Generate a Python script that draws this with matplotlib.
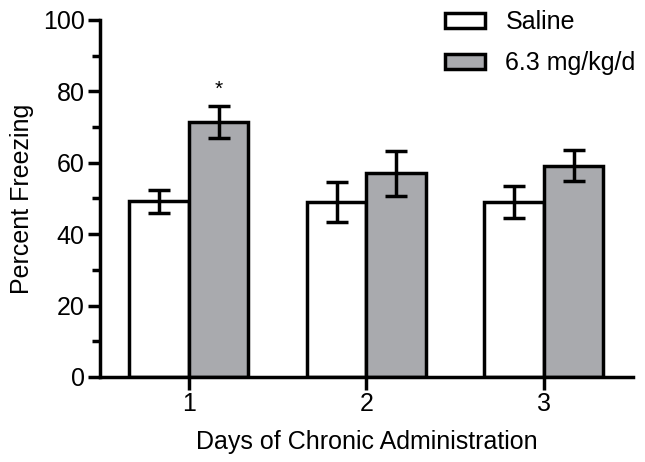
import matplotlib
matplotlib.use('Agg')
import matplotlib.pyplot as plt
import numpy as np

plt.rcParams['font.family'] = ['Liberation Sans', 'DejaVu Sans']

days = ['1', '2', '3']
saline = [49.2, 48.9, 49.0]
saline_err = [3.2, 5.6, 4.4]
drug = [71.4, 57.0, 59.2]
drug_err = [4.6, 6.4, 4.4]
series_names = ['Saline', '6.3 mg/kg/d']
stars = ['*', '', '']

x = np.arange(1, len(days) + 1)
w = 0.335

fig = plt.figure(figsize=(6.45, 4.62), dpi=100)
ax = fig.add_axes([0.155, 0.184, 0.826, 0.773])

lw = 2.5
ax.bar(x - w / 2, saline, w, color='white', edgecolor='black', linewidth=lw,
       label=series_names[0], zorder=2)
ax.bar(x + w / 2, drug, w, color='#a9aaae', edgecolor='black', linewidth=lw,
       label=series_names[1], zorder=2)
ax.errorbar(x - w / 2, saline, yerr=saline_err, fmt='none', ecolor='black',
            elinewidth=lw, capsize=8, capthick=lw, zorder=3)
ax.errorbar(x + w / 2, drug, yerr=drug_err, fmt='none', ecolor='black',
            elinewidth=lw, capsize=8, capthick=lw, zorder=3)

for xi, d, e, s in zip(x, drug, drug_err, stars):
    if s:
        ax.text(xi + w / 2, d + e + 2.9, s, ha='center', va='baseline', fontsize=15)

ax.set_xlim(0.5, 3.5)
ax.set_ylim(0, 100)
ax.set_xticks(x)
ax.set_xticklabels(days)
ax.set_yticks(np.arange(0, 101, 20))
ax.set_yticks(np.arange(10, 100, 20), minor=True)

for sp in ['top', 'right']:
    ax.spines[sp].set_visible(False)
for sp in ['left', 'bottom']:
    ax.spines[sp].set_linewidth(lw)

ax.tick_params(axis='both', which='major', length=9, width=lw, labelsize=18,
               direction='out', pad=2)
ax.tick_params(axis='y', which='minor', length=6, width=lw, direction='out')

ax.set_ylabel('Percent Freezing', fontsize=18, labelpad=6)
ax.set_xlabel('Days of Chronic Administration', fontsize=18, labelpad=10)

leg = ax.legend(loc='upper left', bbox_to_anchor=(0.606, 1.09), frameon=False, fontsize=18,
                handlelength=1.6, handleheight=0.56, labelspacing=0.68, handletextpad=0.8)

fig.savefig('out.png', dpi=100)
